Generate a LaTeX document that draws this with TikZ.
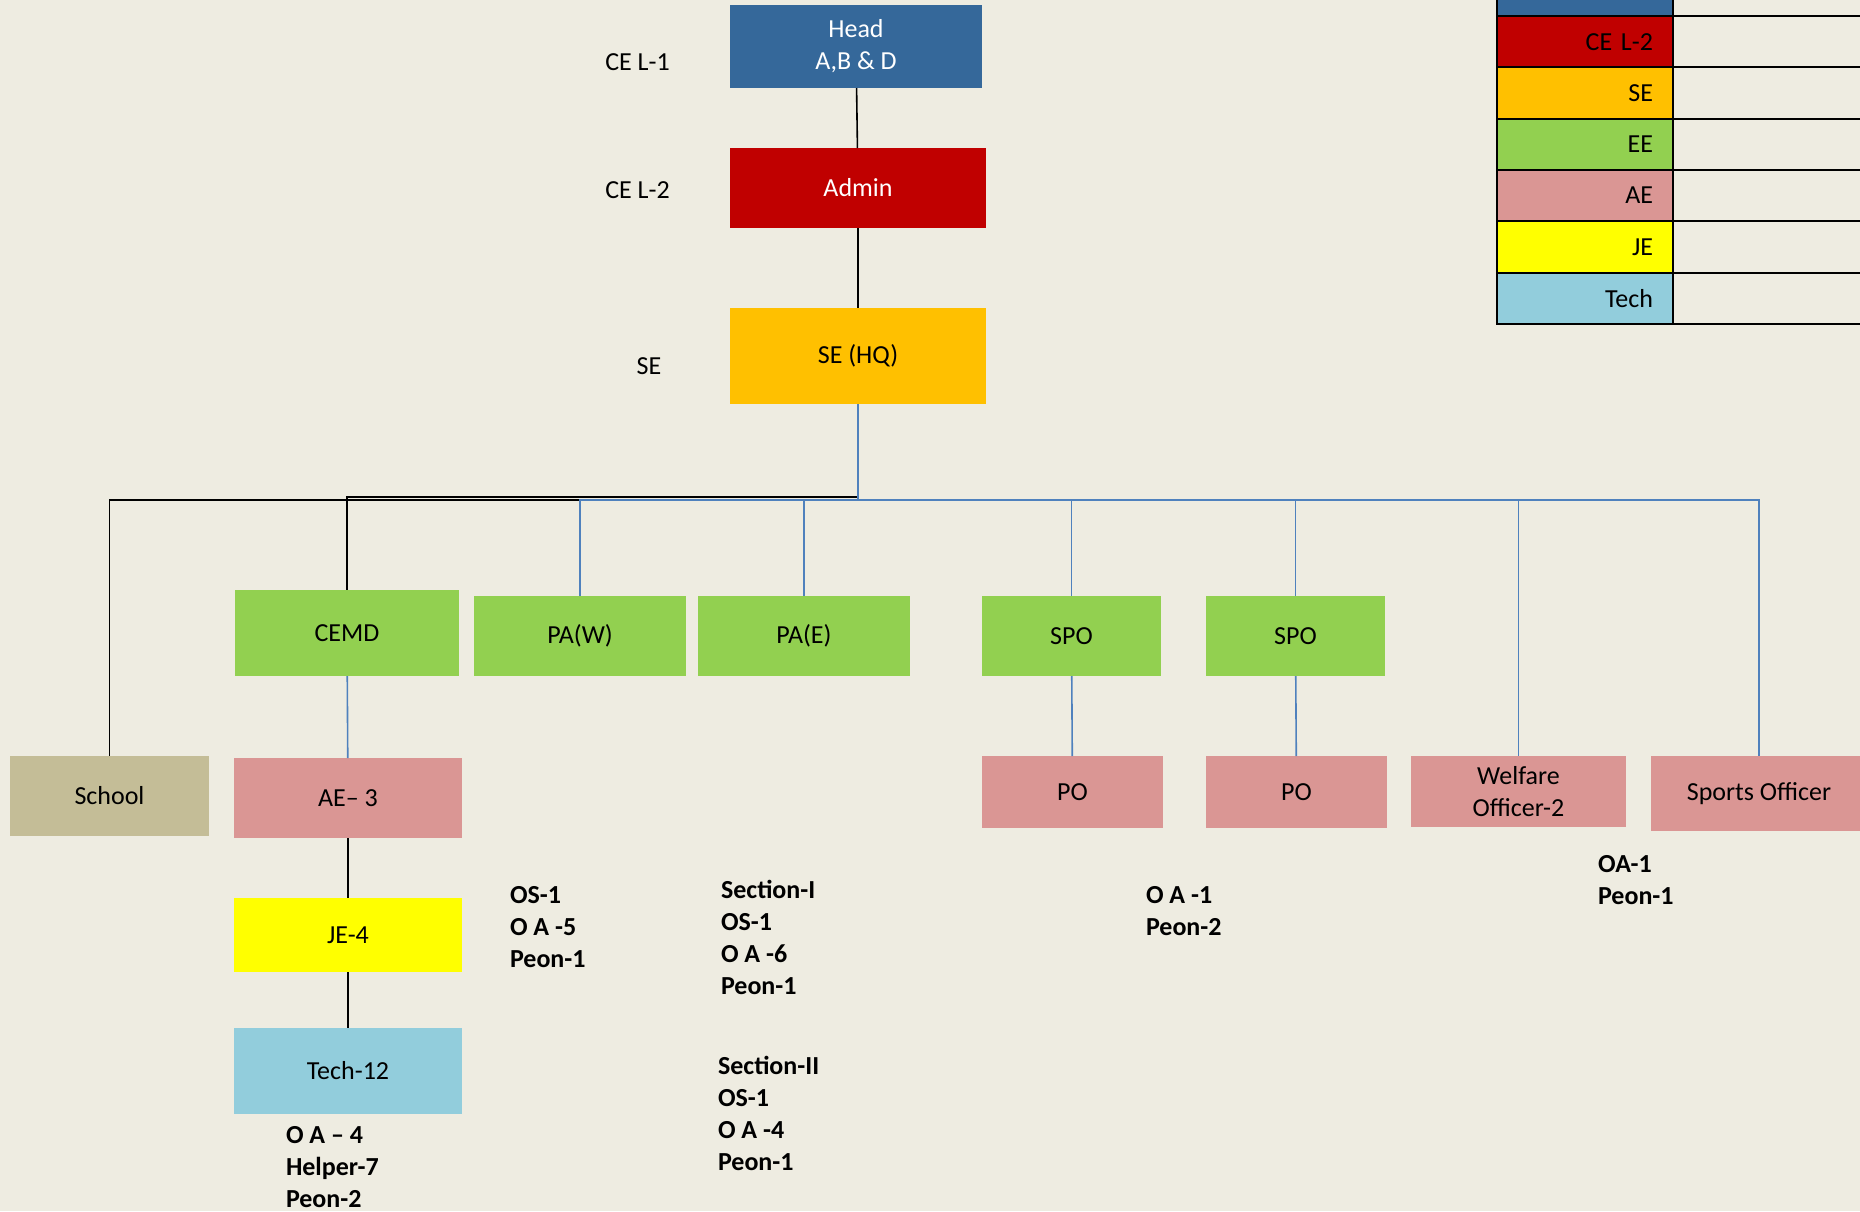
\documentclass[tikz,border=0pt]{standalone}
\usepackage{fontspec}
\setmainfont{Carlito}
\usepackage{tikz}
\usetikzlibrary{positioning}

\definecolor{pagebg}{HTML}{EEECE1}
\definecolor{headblue}{HTML}{35689A}
\definecolor{adminred}{HTML}{C00000}
\definecolor{seorange}{HTML}{FFC000}
\definecolor{eegreen}{HTML}{92D050}
\definecolor{aepink}{HTML}{DA9694}
\definecolor{jeyellow}{HTML}{FFFF00}
\definecolor{techblue}{HTML}{92CDDC}
\definecolor{schooltan}{HTML}{C4BD97}
\definecolor{linkblue}{HTML}{4F81BD}

\begin{document}
\begin{tikzpicture}[x=1pt, y=-1pt,
    every node/.style={align=center, inner sep=0pt, outer sep=0pt, font=\fontsize{26}{32}\selectfont},
    box/.style={fill=#1, minimum height=80pt},
    note/.style={font=\fontsize{26}{32}\selectfont\bfseries, align=left, anchor=base west}, % base = last line
    legend/.style={fill=#1, draw=black, line width=2pt, minimum height=51.3pt,
        text width=136pt, inner xsep=20pt, align=right},
    cell/.style={draw=black, line width=2pt, minimum width=230pt, minimum height=51.3pt},
    darkline/.style={draw=black, line width=1.6pt},
    blueline/.style={draw=linkblue, line width=1.6pt}
    ]

    \useasboundingbox (0,0) rectangle (1860,1211);
    \clip (0,0) rectangle (1860,1211);
    \fill[pagebg] (0,0) rectangle (1860,1211);

    % top of the chart
    \node[box=headblue, text=white, minimum width=252pt, minimum height=83pt] (head) at (856,46.5) {Head\\A,B \& D};
    \node[box=adminred, text=white, minimum width=256pt] (admin) at (858,188) {Admin};
    \node[box=seorange, minimum width=256pt, minimum height=96pt] (sehq) at (858,356) {SE (HQ)};

    \node (lvlone) at (637.5,62.6) {CE L-1};
    \node (lvltwo) at (637.5,190.6) {CE L-2};
    \node (lvlse) at (649,366.6) {SE};

    % second row
    \node[box=eegreen, minimum width=224pt, minimum height=86pt] (cemd) at (347,633) {CEMD};
    \node[box=eegreen, minimum width=212pt] (paw) at (580,636) {PA(W)};
    \node[box=eegreen, minimum width=212pt] (pae) at (804,636) {PA(E)};
    \node[box=eegreen, minimum width=179pt] (spoone) at (1071.5,636) {SPO};
    \node[box=eegreen, minimum width=179pt] (spotwo) at (1295.5,636) {SPO};

    % third row
    \node[box=schooltan, minimum width=199pt] (school) at (109.5,796) {School};
    \node[box=aepink, minimum width=228pt] (ae) at (348,798) {AE– 3};
    \node[box=aepink, minimum width=181pt, minimum height=72pt] (poone) at (1072.5,792) {PO};
    \node[box=aepink, minimum width=181pt, minimum height=72pt] (potwo) at (1296.5,792) {PO};
    \node[box=aepink, minimum width=215pt, minimum height=71pt] (welfare) at (1518.5,791.5) {Welfare\\Officer-2};
    \node[box=aepink, minimum width=216pt, minimum height=75pt] (sports) at (1759,793.5) {Sports Officer};

    \node[box=jeyellow, minimum width=228pt, minimum height=74pt, below=60pt of ae] (je) {JE-4};
    \node[box=techblue, minimum width=228pt, minimum height=86pt, below=56pt of je] (tech) {Tech-12};

    % staff notes
    \node[note] (aestaff) at (510,967) {OS-1\\O A -5\\Peon-1};
    \node[note] (secone) at (721,994) {Section-I\\OS-1\\O A -6\\Peon-1};
    \node[note] (sectwo) at (718,1170) {Section-II\\OS-1\\O A -4\\Peon-1};
    \node[note] (techstaff) at (286,1207) {O A – 4\\Helper-7\\Peon-2};
    \node[note] (postaff) at (1146,935) {O A -1\\Peon-2};
    \node[note] (welstaff) at (1598,904) {OA-1\\Peon-1};

    % legend
    \node[legend=headblue] (legone) at (1585,-9.65) {CE L-1};
    \node[legend=adminred, below=0pt of legone] (legtwo) {CE L-2};
    \node[legend=seorange, below=0pt of legtwo] (legthree) {SE};
    \node[legend=eegreen, below=0pt of legthree] (legfour) {EE};
    \node[legend=aepink, below=0pt of legfour] (legfive) {AE};
    \node[legend=jeyellow, below=0pt of legfive] (legsix) {JE};
    \node[legend=techblue, below=0pt of legsix] (legseven) {Tech};
    \node[cell, right=0pt of legone] (cellone) {};
    \node[cell, right=0pt of legtwo] (celltwo) {};
    \node[cell, right=0pt of legthree] (cellthree) {};
    \node[cell, right=0pt of legfour] (cellfour) {};
    \node[cell, right=0pt of legfive] (cellfive) {};
    \node[cell, right=0pt of legsix] (cellsix) {};
    \node[cell, right=0pt of legseven] (cellseven) {};

    % connectors
    \draw[darkline] (head) -- (admin);
    \draw[darkline] (admin) -- (sehq);
    \draw[darkline] (sehq.south) -- ++(0,96) -| (school.north);
    \draw[darkline] (sehq.south) -- ++(0,93) -| (cemd.north);
    \draw[blueline] (sehq.south) -- ++(0,96) -| (paw.north);
    \draw[blueline] (sehq.south) -- ++(0,96) -| (pae.north);
    \draw[blueline] (sehq.south) -- ++(0,96) -| (spoone.north);
    \draw[blueline] (sehq.south) -- ++(0,96) -| (spotwo.north);
    \draw[blueline] (sehq.south) -- ++(0,96) -| (welfare.north);
    \draw[blueline] (sehq.south) -- ++(0,96) -| (sports.north);
    \draw[blueline] (cemd) -- (ae);
    \draw[darkline] (ae) -- (je);
    \draw[darkline] (je) -- (tech);
    \draw[blueline] (spoone) -- (poone);
    \draw[blueline] (spotwo) -- (potwo);

\end{tikzpicture}
\end{document}
